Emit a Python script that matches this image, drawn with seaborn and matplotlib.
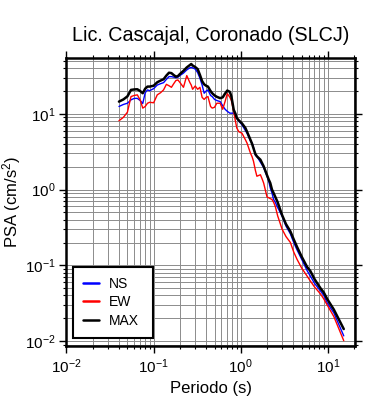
import matplotlib
matplotlib.use("Agg")
import matplotlib.pyplot as plt
import seaborn as sns
import pandas as pd
from matplotlib.ticker import LogLocator, NullFormatter

periods = [0.040, 0.045, 0.050, 0.055, 0.060, 0.065, 0.070, 0.075, 0.080, 0.085,
           0.090, 0.10, 0.11, 0.12, 0.13, 0.14, 0.15, 0.16, 0.17, 0.18,
           0.19, 0.20, 0.22, 0.24, 0.26, 0.27, 0.28, 0.30, 0.32, 0.34,
           0.36, 0.38, 0.40, 0.42, 0.45, 0.47, 0.50, 0.53, 0.58, 0.62,
           0.66, 0.70, 0.75, 0.78, 0.83, 0.87, 0.90, 0.95, 1.03, 1.13,
           1.18, 1.29, 1.35, 1.40, 1.47, 1.53, 1.68, 1.75, 1.83, 2.00,
           2.09, 2.18, 2.28, 2.38, 2.49, 2.65, 2.98, 3.3, 3.71, 4.05,
           4.42, 5.0, 5.77, 6.29, 7.0, 8.2, 8.96, 9.8, 11.7, 15.2]

ns = [12.5, 13.3, 13.8, 15.3, 16.0, 16.0, 15.0, 13.7, 19.0, 20.7,
      20.2, 21.5, 24.0, 25.0, 25.8, 28.5, 31.0, 31.0, 30.5, 30.0,
      30.5, 32.0, 34.5, 38.0, 40.5, 41.0, 40.5, 39.0, 35.0, 29.5,
      24.0, 18.7, 20.0, 20.7, 17.5, 16.9, 15.5, 15.0, 14.5, 12.8,
      11.5, 10.8, 10.2, 10.2, 10.2, 9.5, 8.8, 8.0, 7.2, 6.0,
      5.56, 4.4, 4.1, 3.6, 2.85, 2.74, 2.3, 2.13, 1.95, 1.5,
      1.3, 1.05, 0.9, 0.74, 0.68, 0.58, 0.445, 0.33, 0.26, 0.20,
      0.16, 0.12, 0.085, 0.072, 0.058, 0.046, 0.040, 0.032, 0.0235, 0.0117]

ew = [8.1, 9.0, 10.5, 16.9, 17.5, 17.8, 15.3, 11.9, 12.5, 13.8,
      14.2, 14.0, 17.8, 19.0, 20.7, 24.5, 23.5, 22.4, 25.0, 27.5,
      28.0, 26.0, 22.4, 32.0, 26.0, 24.0, 21.1, 23.3, 21.1, 22.4,
      16.5, 15.5, 16.5, 16.9, 12.5, 11.9, 12.2, 13.8, 13.8, 11.5,
      14.5, 18.5, 16.5, 15.0, 10.7, 7.9, 6.5, 5.8, 5.56, 4.55,
      4.1, 3.04, 2.7, 2.36, 1.8, 1.5, 1.57, 1.4, 1.22, 0.8,
      0.78, 0.76, 0.74, 0.68, 0.6, 0.45, 0.30, 0.24, 0.2, 0.15,
      0.12, 0.092, 0.072, 0.062, 0.052, 0.042, 0.036, 0.030, 0.021, 0.0101]

mx = [14.5, 15.5, 17.0, 20.7, 21.0, 21.1, 20.0, 18.7, 21.5, 22.9,
      22.9, 23.5, 26.1, 27.5, 28.6, 32.0, 34.9, 34.5, 32.5, 31.0,
      31.5, 33.5, 37.0, 41.0, 44.0, 45.5, 43.5, 41.5, 39.0, 32.6,
      27.0, 24.5, 23.5, 22.9, 20.0, 18.7, 17.5, 16.8, 16.1, 16.5,
      18.5, 20.3, 19.5, 17.0, 11.3, 10.0, 8.8, 8.2, 7.5, 6.5,
      5.8, 4.55, 4.0, 3.5, 2.95, 2.75, 2.48, 2.25, 2.03, 1.55,
      1.36, 1.22, 1.0, 0.9, 0.8, 0.68, 0.46, 0.35, 0.28, 0.22,
      0.175, 0.13, 0.095, 0.084, 0.066, 0.05, 0.0438, 0.036, 0.026, 0.0144]

series_names = ["NS", "EW", "MAX"]
series_colors = ["#0000ff", "#ff0000", "#000000"]
title = "Lic. Cascajal, Coronado (SLCJ)"

sns.set_style("ticks")
plt.rcParams["font.family"] = ["Liberation Sans", "DejaVu Sans"]
plt.rcParams["mathtext.fontset"] = "custom"
plt.rcParams["mathtext.rm"] = "Liberation Sans"
plt.rcParams["mathtext.it"] = "Liberation Sans"
plt.rcParams["text.color"] = "black"
plt.rcParams["axes.labelcolor"] = "black"
plt.rcParams["xtick.color"] = "black"
plt.rcParams["ytick.color"] = "black"

fig = plt.figure(figsize=(3.9, 4.0), dpi=100)
ax = fig.add_axes([0.1705, 0.135, 0.7395, 0.72])

df = pd.DataFrame({"T": periods, "NS": ns, "EW": ew, "MAX": mx})
widths = [1.0, 1.0, 1.8]
for name, col, lw in zip(series_names, series_colors, widths):
    sns.lineplot(data=df, x="T", y=name, ax=ax, color=col, lw=lw,
                 label=name, estimator=None, sort=False, zorder=3)

ax.set_xscale("log")
ax.set_yscale("log")
ax.set_xlim(0.01, 20.4)
ax.set_ylim(0.0086, 54.6)

ax.xaxis.set_major_locator(LogLocator(base=10, numticks=10))
ax.yaxis.set_major_locator(LogLocator(base=10, numticks=10))
ax.xaxis.set_minor_locator(LogLocator(base=10, subs=range(2, 10), numticks=20))
ax.yaxis.set_minor_locator(LogLocator(base=10, subs=range(2, 10), numticks=20))
ax.xaxis.set_minor_formatter(NullFormatter())
ax.yaxis.set_minor_formatter(NullFormatter())

ax.grid(True, which="both", color="#8c8c8c", lw=0.7)
ax.set_axisbelow(True)
for s in ax.spines.values():
    s.set_linewidth(1.8)
    s.set_color("black")
ax.tick_params(which="both", direction="out", top=True, right=True,
               labeltop=False, labelright=False, color="black")
ax.tick_params(which="major", length=5, width=1, labelsize=11, pad=3)
ax.tick_params(which="minor", length=2.5, width=0.8)

ax.set_title(title, fontsize=14.2, pad=12, color="black")
ax.set_xlabel("Periodo (s)", fontsize=12)
ax.set_ylabel("PSA (cm/s$^2$)", fontsize=12, labelpad=1)

leg = ax.legend(loc="lower left", bbox_to_anchor=(0.0225, 0.028, 0.277, 0.0),
                mode="expand", borderaxespad=0,
                fancybox=False, framealpha=1, edgecolor="black", fontsize=10,
                handlelength=1.1, labelspacing=0.3, borderpad=0.75, handletextpad=0.75)
leg.get_frame().set_linewidth(1.5)
for h in leg.get_lines():
    h.set_linewidth(1.8)

fig.savefig("out.png", dpi=100)
